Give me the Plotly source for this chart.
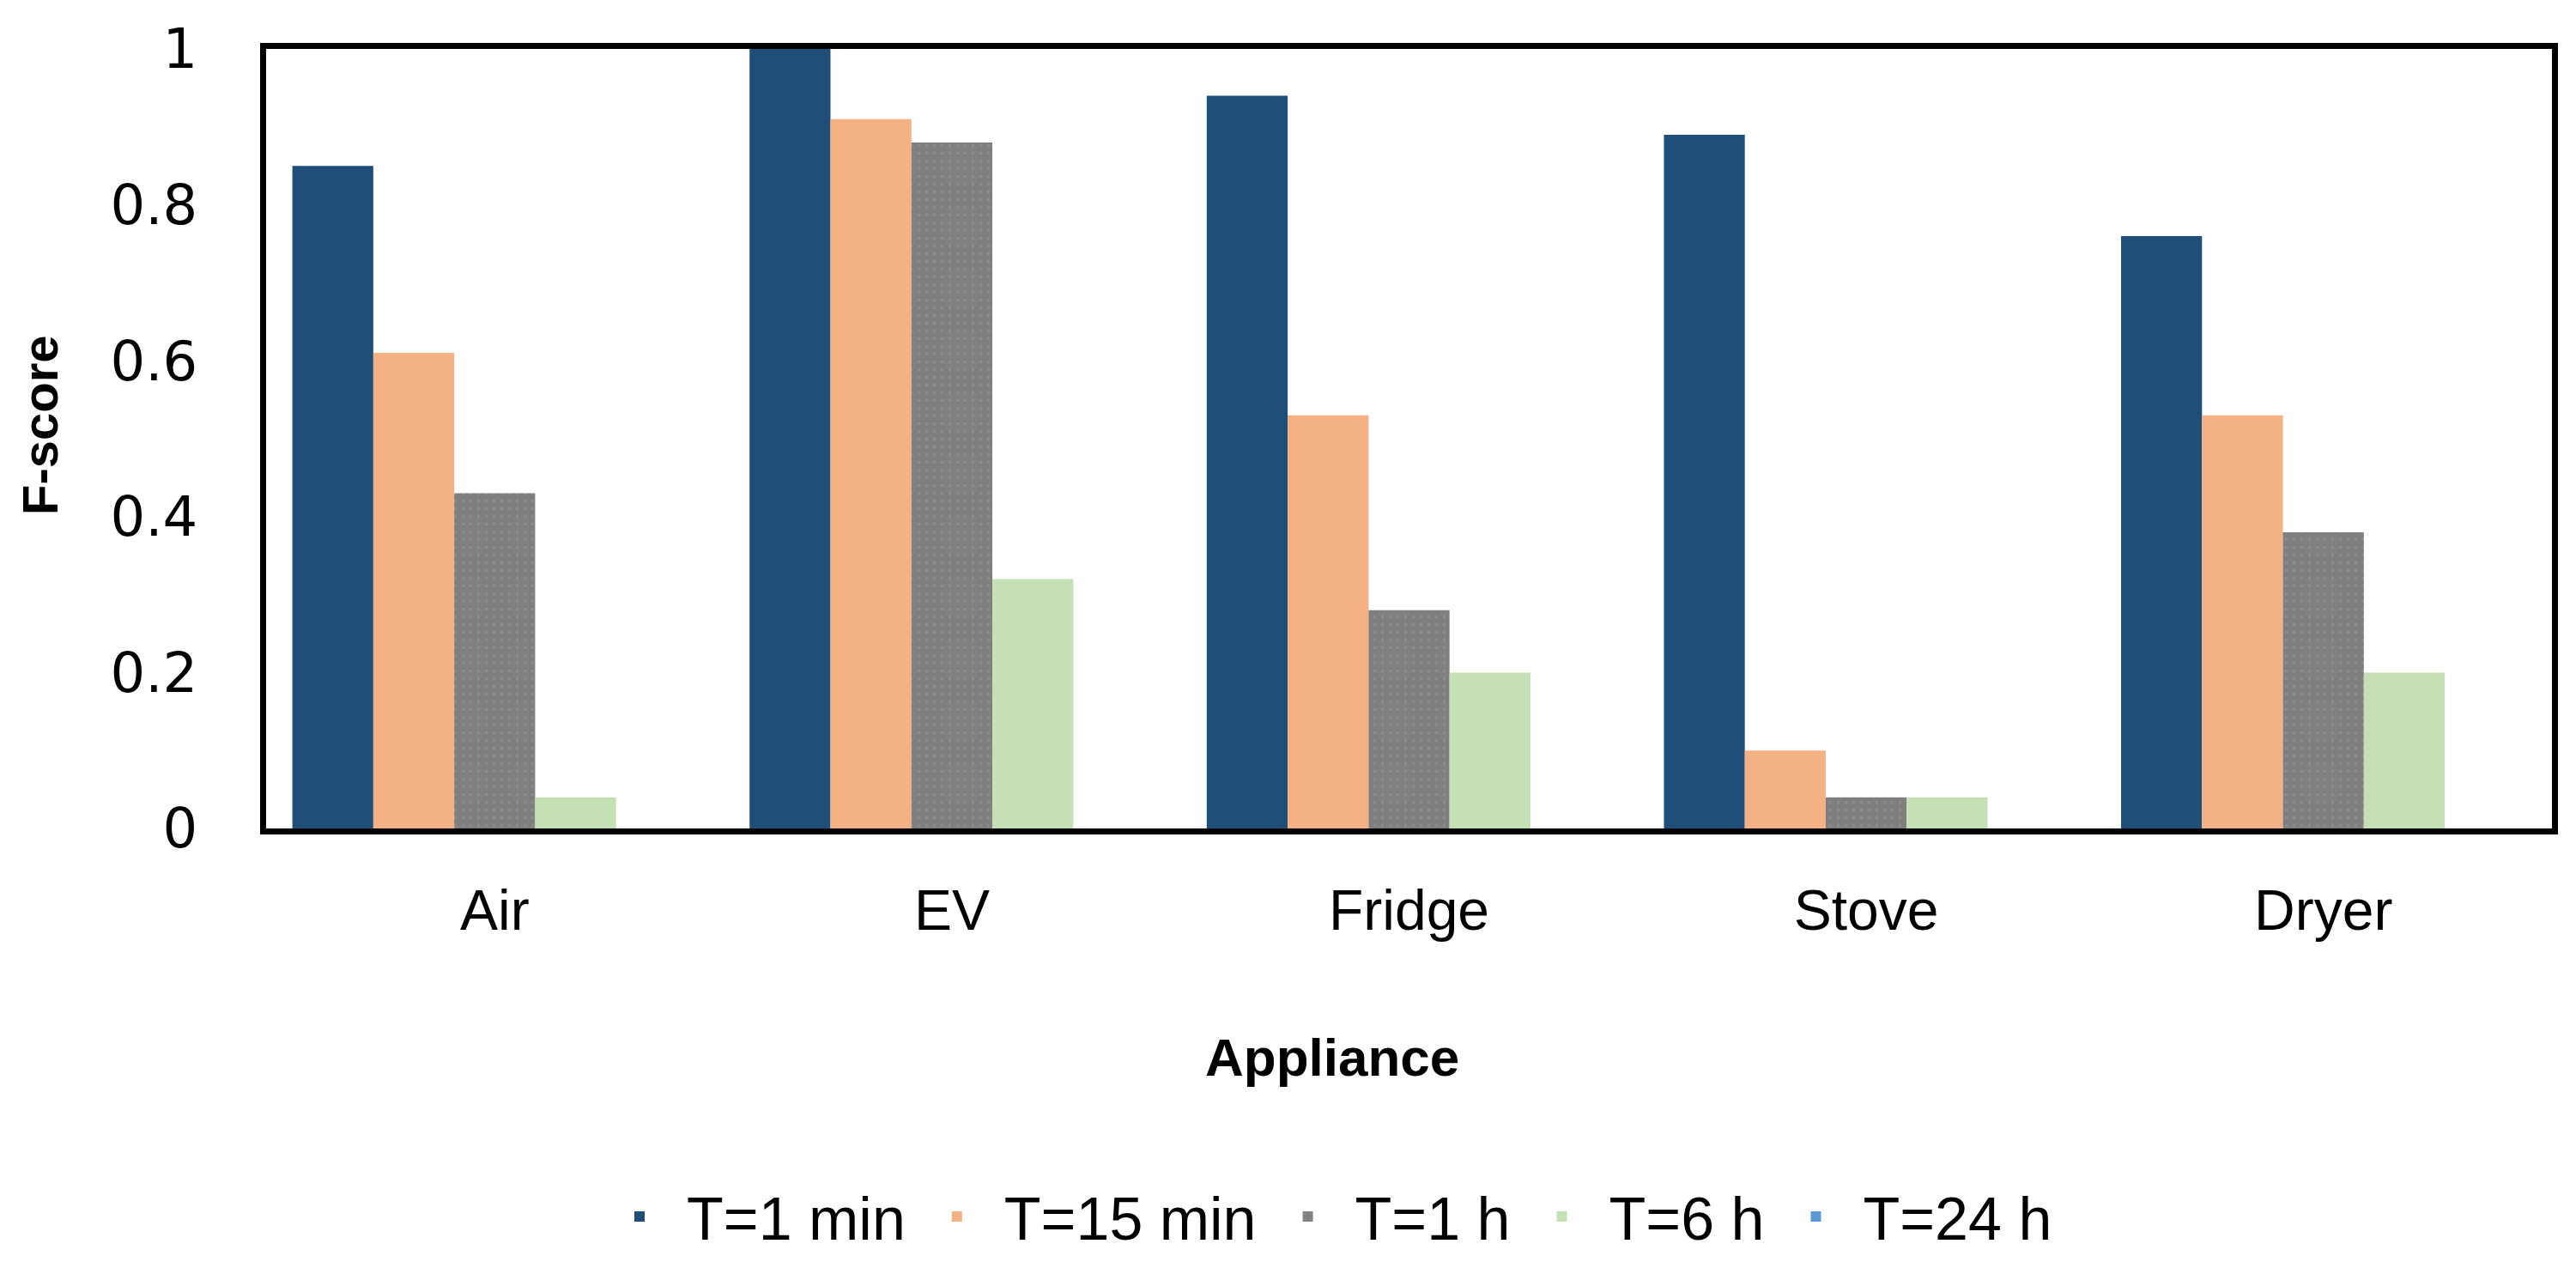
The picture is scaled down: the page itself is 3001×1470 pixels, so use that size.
import plotly.graph_objects as go

appliances = ["Air", "EV", "Fridge", "Stove", "Dryer"]
series_names = ["T=1 min", "T=15 min", "T=1 h", "T=6 h", "T=24 h"]
t_1min = [0.85, 1.00, 0.94, 0.89, 0.76]
t_15min = [0.61, 0.91, 0.53, 0.10, 0.53]
t_1h = [0.43, 0.88, 0.28, 0.04, 0.38]
t_6h = [0.04, 0.32, 0.20, 0.04, 0.20]
t_24h = [0.0, 0.0, 0.0, 0.0, 0.0]
y_ticks = [0, 0.2, 0.4, 0.6, 0.8, 1]

colors = ["#1F4E79", "#F4B183", "#7F7F7F", "#C5E0B4", "#5B9BD5"]
series_values = [t_1min, t_15min, t_1h, t_6h, t_24h]

W, H = 3001, 1470
L, R, T, B = 310, 28, 57, 505
pw, ph = W - L - R, H - T - B

def px_x(x):
    return (x - L) / pw

def px_y(y):
    return (H - B - y) / ph

FONT = "Liberation Sans, Arial, sans-serif"
TICKFONT = "DejaVu Sans, Verdana, sans-serif"

fig = go.Figure()
for name, vals, col in zip(series_names, series_values, colors):
    marker = dict(color=col, line=dict(width=0))
    if name == "T=1 h":
        marker["pattern"] = dict(shape=".", fgcolor="#9a9a9a", bgcolor=col,
                                 size=9, solidity=0.12, fillmode="overlay")
    fig.add_trace(go.Bar(name=name, x=appliances, y=vals, marker=marker))

fig.update_layout(
    width=W, height=H,
    margin=dict(l=L, r=R, t=T, b=B, autoexpand=False),
    paper_bgcolor="white", plot_bgcolor="white",
    barmode="group", bargap=0.115, bargroupgap=0,
    font=dict(family=FONT, color="black", size=64),
    showlegend=True,
    legend=dict(orientation="h", xanchor="left", yanchor="middle",
                xref="container", yref="container",
                x=690 / W, y=1 - 1417 / H,
                font=dict(family=FONT, size=70, color="black"),
                itemwidth=100, bgcolor="rgba(0,0,0,0)"),
)
fig.update_xaxes(showline=True, linewidth=7, linecolor="black", mirror=True,
                 showgrid=False, ticks="", ticklabelstandoff=32, automargin=False,
                 tickfont=dict(family=FONT, size=66, color="black"))
fig.update_yaxes(range=[0, 1], tickvals=y_ticks, ticktext=[f"{v:g}" for v in y_ticks],
                 showline=True, linewidth=7, linecolor="black", mirror=True,
                 showgrid=False, zeroline=False, ticks="", ticklabelstandoff=60,
                 automargin=False,
                 tickfont=dict(family=TICKFONT, size=64, color="black"))

fig.add_annotation(text="<b>Appliance</b>", xref="paper", yref="paper",
                   x=px_x(1552), y=px_y(1231), showarrow=False,
                   xanchor="center", yanchor="middle",
                   font=dict(family=FONT, size=62, color="black"))
fig.add_annotation(text="<b>F-score</b>", xref="paper", yref="paper",
                   x=px_x(46), y=px_y(495), showarrow=False, textangle=-90,
                   xanchor="center", yanchor="middle",
                   font=dict(family=FONT, size=58, color="black"))

fig.write_html("out.html", config={"displayModeBar": False},
               post_script="document.body.style.margin='0';document.body.style.overflow='hidden';")
